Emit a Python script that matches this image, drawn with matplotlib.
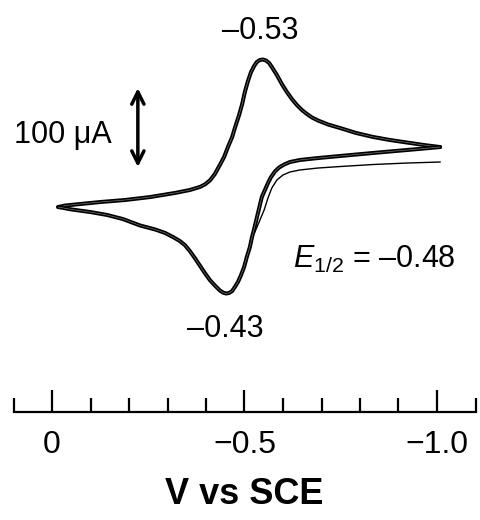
import numpy as np
import matplotlib
matplotlib.use("Agg")
from matplotlib import pyplot as plt
from matplotlib import patheffects as pe

plt.rcParams['font.family'] = ['Liberation Sans', 'DejaVu Sans']
plt.rcParams['mathtext.fontset'] = 'custom'
plt.rcParams['mathtext.rm'] = 'Liberation Sans'
plt.rcParams['mathtext.it'] = 'Liberation Sans:italic'

# forward scan (0 -> -1.0 V); potential in V, current in uA
fwd_E = [-0.016, -0.034, -0.060, -0.125, -0.190, -0.255, -0.319, -0.358, -0.384,
         -0.397, -0.410, -0.423, -0.436, -0.447, -0.457, -0.468, -0.475, -0.486,
         -0.494, -0.501, -0.509, -0.517, -0.525, -0.532, -0.540, -0.548, -0.556,
         -0.564, -0.571, -0.584, -0.597, -0.610, -0.623, -0.636, -0.649, -0.662,
         -0.675, -0.691, -0.717, -0.748, -0.790, -0.834, -0.878, -0.922, -0.966,
         -1.008]
fwd_I = [-9.0, -7.1, -5.8, -2.6, 0.0, 3.8, 9.0, 12.8, 16.7,
         19.9, 25.0, 33.3, 44.9, 55.1, 67.9, 80.8, 92.3, 109.0,
         123.1, 138.5, 152.6, 164.1, 171.8, 176.9, 179.5, 180.1, 178.8,
         175.6, 170.5, 160.3, 148.7, 138.5, 129.5, 121.8, 115.4, 110.3,
         105.8, 101.9, 96.8, 92.3, 85.9, 80.8, 76.9, 73.7, 70.5,
         67.9]

# reverse scan (-1.0 -> 0 V)
rev_E = [-1.008, -0.966, -0.922, -0.878, -0.834, -0.790, -0.748, -0.691, -0.644,
         -0.618, -0.603, -0.590, -0.579, -0.569, -0.561, -0.553, -0.545, -0.540,
         -0.535, -0.530, -0.525, -0.519, -0.514, -0.506, -0.499, -0.491, -0.483,
         -0.475, -0.468, -0.460, -0.452, -0.444, -0.436, -0.423, -0.410, -0.397,
         -0.384, -0.371, -0.358, -0.345, -0.332, -0.314, -0.294, -0.268, -0.229,
         -0.184, -0.143, -0.099, -0.052, -0.016]
rev_I = [67.9, 66.0, 64.1, 62.2, 60.3, 58.3, 56.4, 53.8, 51.3,
         48.7, 45.5, 41.7, 36.5, 29.5, 21.8, 12.8, 3.8, -6.4,
         -16.7, -26.9, -37.2, -48.7, -60.3, -73.1, -85.9, -96.2, -105.1,
         -111.5, -116.7, -119.2, -119.9, -118.6, -116.0, -109.6, -102.6, -93.6,
         -84.0, -74.4, -65.4, -57.7, -52.6, -47.4, -42.3, -37.8, -32.7,
         -24.4, -19.2, -15.4, -12.2, -9.0]

# first cycle, reverse scan (only where it differs)
first_E = [-1.008, -0.922, -0.834, -0.748, -0.691, -0.644, -0.618, -0.600,
           -0.584, -0.571, -0.561, -0.551, -0.538, -0.527]
first_I = [48.7, 47.4, 45.5, 42.9, 41.0, 38.5, 35.9, 32.1,
           25.6, 15.4, 2.6, -12.8, -28.2, -41.0]

tick_pos = [0, -0.5, -1.0]
tick_lab = ["0", "\u22120.5", "\u22121.0"]

# pixel scale of the original figure
px_per_V = 385.0
px_per_uA = 0.78
x0_px, y0_px = 52.0, 200.0
W, H = 480, 520

fig = plt.figure(figsize=(W / 100, H / 100), dpi=100)
ax = fig.add_axes([0, 0, 1, 1])
ax.set_xlim(x0_px / px_per_V, -(W - x0_px) / px_per_V)
ax.set_ylim(-(H - y0_px) / px_per_uA, y0_px / px_per_uA)
ax.axis('off')

# two overlapping cycles -> thick line with a faint light core
double = [pe.Stroke(linewidth=2.9, foreground='black', joinstyle='round'),
          pe.Stroke(linewidth=0.5, foreground='white', alpha=0.45, joinstyle='round')]
ax.plot(fwd_E, fwd_I, color='black', lw=2.9, solid_capstyle='round',
        path_effects=double)
ax.plot(rev_E, rev_I, color='black', lw=2.9, solid_capstyle='round',
        path_effects=double)
ax.plot(first_E, first_I, color='black', lw=1.0, solid_joinstyle='round')

# scale bar 100 uA
ax.annotate('', xy=(-0.223, 143.5), xytext=(-0.223, 42.3),
            arrowprops=dict(arrowstyle='<->', lw=2.5, color='black',
                            mutation_scale=22, shrinkA=0, shrinkB=0))
ax.text(-0.028, 73, '100 \u03bcA', fontsize=22, ha='center', va='baseline')

ax.text(-0.540, 206, '\u20130.53', fontsize=22, ha='center', va='baseline')
ax.text(-0.449, -176, '\u20130.43', fontsize=22, ha='center', va='baseline')
ax.text(-0.626, -87, r'$E_{\mathrm{1/2}}$' + ' = \u20130.48',
        fontsize=22, ha='left', va='baseline')

# bottom potential axis
rax = fig.add_axes([13.5 / W, (H - 412) / H, 462 / W, 0.05])
rax.set_facecolor('none')
rax.set_xlim(0.1, -1.1)
for s in ['top', 'left', 'right']:
    rax.spines[s].set_visible(False)
rax.spines['bottom'].set_linewidth(1.6)
rax.set_yticks([])
rax.set_xticks(tick_pos, tick_lab)
rax.set_xticks(np.arange(0.1, -1.15, -0.1), minor=True)
rax.tick_params(axis='x', which='major', direction='in', length=15.8, width=1.6,
                labelsize=23, pad=13)
rax.tick_params(axis='x', which='minor', direction='in', length=10, width=1.6)
rax.set_xlabel('V vs SCE', fontsize=26, fontweight='bold', labelpad=12)

fig.savefig('out.png', dpi=100)
